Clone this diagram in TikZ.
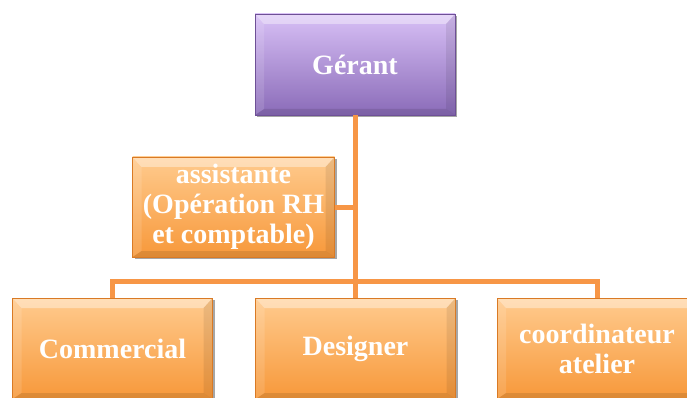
\documentclass[tikz,border=0pt]{standalone}
\usepackage{fontspec}
\setmainfont{Liberation Serif}
\usetikzlibrary{shadows}
\definecolor{orTop}{HTML}{FFCB8E}
\definecolor{orBot}{HTML}{F7983A}
\definecolor{orEdge}{HTML}{D97A25}
\definecolor{puTop}{HTML}{D8C0F6}
\definecolor{puBot}{HTML}{8A6BB8}
\definecolor{puEdge}{HTML}{6E5096}
\definecolor{link}{HTML}{F79646}
\tikzset{
  bevel/.style={path picture={
    \coordinate (nw) at (path picture bounding box.north west);
    \coordinate (ne) at (path picture bounding box.north east);
    \coordinate (sw) at (path picture bounding box.south west);
    \coordinate (se) at (path picture bounding box.south east);
    \fill[white,opacity=.38] (nw) -- (ne) -- ([xshift=-9pt,yshift=-10pt]ne) -- ([xshift=9pt,yshift=-10pt]nw) -- cycle;
    \fill[white,opacity=.12] (nw) -- ([xshift=9pt,yshift=-10pt]nw) -- ([xshift=9pt,yshift=6pt]sw) -- (sw) -- cycle;
    \fill[black,opacity=.08] (ne) -- ([xshift=-9pt,yshift=-10pt]ne) -- ([xshift=-9pt,yshift=6pt]se) -- (se) -- cycle;
    \fill[black,opacity=.10] (sw) -- ([xshift=9pt,yshift=6pt]sw) -- ([xshift=-9pt,yshift=6pt]se) -- (se) -- cycle;
  }},
  card/.style={rectangle, inner sep=0pt, minimum width=200pt, minimum height=101pt,
    line width=0.6pt, text=white, align=center,
    font=\bfseries\fontsize{28}{30}\selectfont, bevel,
    drop shadow={shadow xshift=2pt, shadow yshift=-2pt, opacity=.35, fill=black}},
  orange card/.style={card, draw=orEdge, top color=orTop, bottom color=orBot},
  purple card/.style={card, draw=puEdge, top color=puTop, bottom color=puBot},
  conn/.style={draw=link, line width=5pt}
}
\begin{document}
\begin{tikzpicture}[x=1pt, y=-1pt]
  \useasboundingbox (0,0) rectangle (687,398);
  \clip (0,0) rectangle (687,398);

  % boxes of the organisation chart
  \node[purple card] (ger) at (355,64.5) {Gérant};
  \node[orange card, minimum width=202pt, minimum height=100pt] (asst) at (233.5,207)
    {assistante\\(Opération RH\\et comptable)};
  \node[orange card] (com) at (112.5,348.5) {Commercial};
  \node[orange card] (des) at (355.5,348.5) {Designer};
  \node[orange card] (coo) at (597,348.5) {coordinateur\\atelier};

  % connectors
  \coordinate (bar) at (0,281);
  \draw[conn] (ger.south) -- (ger.south |- des.north);
  \draw[conn] (asst.east) -- (asst.east -| ger.south);
  \draw[conn] (com.north) |- (bar -| coo.north) -- (coo.north);
\end{tikzpicture}
\end{document}
